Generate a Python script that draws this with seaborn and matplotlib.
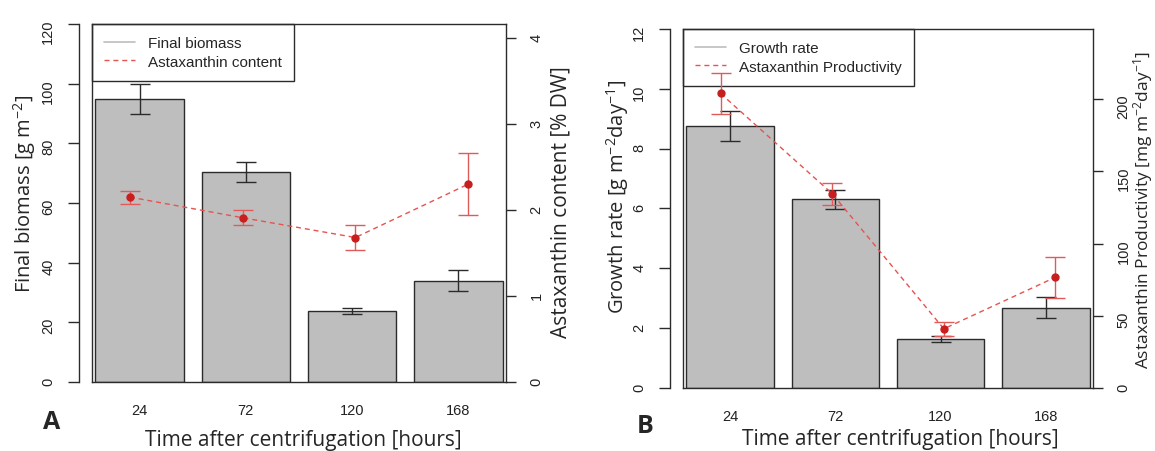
import matplotlib
matplotlib.use("Agg")
import matplotlib.pyplot as plt
from matplotlib.lines import Line2D
import seaborn as sns
import pandas as pd

hours = ["24", "72", "120", "168"]

# panel A
biomass = [95.0, 70.3, 23.8, 34.0]
biomass_err = [5.0, 3.3, 0.9, 3.6]
asta_content = [2.15, 1.91, 1.68, 2.30]
asta_content_err = [0.075, 0.085, 0.15, 0.36]

# panel B
growth = [8.77, 6.31, 1.65, 2.68]
growth_err = [0.50, 0.32, 0.10, 0.35]
asta_prod = [204.0, 134.6, 41.0, 76.7]
asta_prod_err = [14.0, 7.7, 5.0, 14.2]

sns.set_style("ticks")
plt.rcParams["font.family"] = ["Liberation Sans", "DejaVu Sans"]
plt.rcParams["mathtext.fontset"] = "custom"
plt.rcParams["mathtext.rm"] = "Open Sans"
plt.rcParams["mathtext.default"] = "regular"

INK = "#2b2b2b"
BAR = "#bebebe"
RED_PT = "#c81e1e"
RED_ERR = "#e05a5a"
RED_LN = "#e8524f"
LABEL_FONT = "Open Sans"
DASH = (0, (3.6, 2.8))


def panel(fig, rect, bars, bars_err, pts, pts_err, left_ticks, right_lim, right_ticks,
          ylabel, ylabel2, names, lab_xy, lab2_xy, xlab_xy, lab_size, lab2_size):
    df = pd.DataFrame({"hours": hours, "value": bars})
    ax = fig.add_axes(rect)
    sns.barplot(data=df, x="hours", y="value", order=hours, color=BAR, saturation=1,
                width=1 / 1.2, edgecolor=INK, linewidth=1.0, errorbar=None, ax=ax)
    ax.errorbar(range(len(hours)), bars, yerr=bars_err, fmt="none", ecolor=INK,
                elinewidth=1.0, capsize=7, capthick=1.0)
    ax.set_xlim(-0.448, 3.448)
    ax.set_ylim(left_ticks[0], left_ticks[-1])
    ax.set_yticks(left_ticks)
    ax.tick_params(axis="y", direction="out", length=8, width=1.0, color=INK,
                   pad=9, labelsize=10.5, labelrotation=90, labelcolor="#222222")
    ax.tick_params(axis="x", length=0, pad=15, labelsize=10.5, labelcolor="#222222")
    for s in ["top", "right", "bottom"]:
        ax.spines[s].set_visible(False)
    ax.spines["left"].set_position(("outward", 9.4))
    ax.spines["left"].set_color(INK)
    ax.spines["left"].set_linewidth(1.0)

    ax.set_ylabel(ylabel, fontfamily=LABEL_FONT, fontsize=lab_size, va="center")
    ax.yaxis.set_label_coords(*lab_xy)
    ax.set_xlabel("Time after centrifugation [hours]", fontfamily=LABEL_FONT,
                  fontsize=15, va="center")
    ax.xaxis.set_label_coords(*xlab_xy)

    handles = [Line2D([], [], color=BAR, lw=1.2),
               Line2D([], [], color=RED_LN, lw=1.0, linestyle=DASH)]
    leg = ax.legend(handles, names, loc="upper left", bbox_to_anchor=(0, 1),
                    borderaxespad=0, frameon=True, fancybox=False, edgecolor=INK,
                    framealpha=1, fontsize=11, handlelength=2.0, handletextpad=0.85,
                    borderpad=0.8, labelspacing=0.3)
    leg.get_frame().set_linewidth(1.0)

    # second scale for the red series, drawn over the bars
    ax2 = fig.add_axes(rect)
    ax2.patch.set_visible(False)
    pdf = pd.DataFrame({"t": [1, 2, 3, 4], "v": pts})
    sns.lineplot(data=pdf, x="t", y="v", color=RED_LN, linestyle=DASH, linewidth=1.0, ax=ax2)
    ax2.errorbar(pdf["t"], pts, yerr=pts_err, fmt="o", color=RED_PT, ecolor=RED_ERR,
                 ms=5, elinewidth=1.0, capsize=7.5, capthick=1.0)
    ax2.set_xlim(0.664, 4.336)
    ax2.set_ylim(0, right_lim)
    ax2.set_xticks([])
    ax2.set_yticks(right_ticks)
    ax2.yaxis.tick_right()
    ax2.yaxis.set_label_position("right")
    ax2.tick_params(axis="y", direction="out", length=7, width=1.0, color=INK,
                    pad=10, labelsize=10.5, labelrotation=90, labelcolor="#222222")
    for s in ax2.spines.values():
        s.set_visible(True)
        s.set_color(INK)
        s.set_linewidth(1.0)
    ax2.set_xlabel("")
    ax2.set_ylabel(ylabel2, fontfamily=LABEL_FONT, fontsize=lab2_size, rotation=90, va="center")
    ax2.yaxis.set_label_coords(*lab2_xy)
    return ax, ax2


fig = plt.figure(figsize=(11.55, 4.52), dpi=100)

panel(fig, [0.07965, 0.15265, 0.35844, 0.79204], biomass, biomass_err,
      asta_content, asta_content_err, [0, 20, 40, 60, 80, 100, 120], 4.163, [0, 1, 2, 3, 4],
      "Final biomass [g m$^{-2}$]", "Astaxanthin content [% DW]",
      ["Final biomass", "Astaxanthin content"],
      (-0.164, 0.528), (1.132, 0.504), (0.51, -0.160), 14.5, 15)

panel(fig, [0.59134, 0.13938, 0.35498, 0.79425], growth, growth_err,
      asta_prod, asta_prod_err, [0, 2, 4, 6, 8, 10, 12], 248.6, [0, 50, 100, 150, 200],
      "Growth rate [g m$^{-2}$day$^{-1}$]", "Astaxanthin Productivity [mg m$^{-2}$day$^{-1}$]",
      ["Growth rate", "Astaxanthin Productivity"],
      (-0.160, 0.536), (1.122, 0.499), (0.53, -0.142), 14.5, 12.5)

fig.text(52 / 1155, 1 - 423 / 452, "A", ha="center", va="center", fontsize=18,
         fontweight="bold", fontfamily=LABEL_FONT)
fig.text(645 / 1155, 1 - 427 / 452, "B", ha="center", va="center", fontsize=18,
         fontweight="bold", fontfamily=LABEL_FONT)

fig.savefig("out.png", dpi=100)
